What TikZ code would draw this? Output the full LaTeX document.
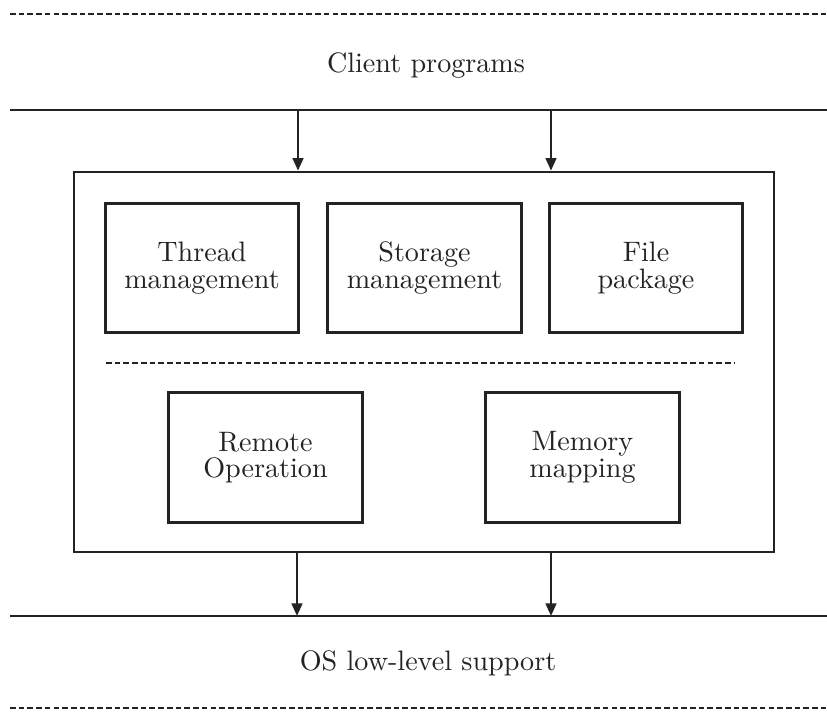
\documentclass[tikz,border=0pt]{standalone}
\usetikzlibrary{arrows.meta}
\definecolor{ink}{RGB}{35,35,35}
\tikzset{
  box/.style={draw=ink, line width=1pt, minimum width=2.42cm, minimum height=1.62cm,
              inner sep=2pt, align=center, text=ink, font=\fontsize{10}{9.5}\selectfont},
  frame/.style={draw=ink, line width=0.9pt, minimum width=8.75cm, minimum height=4.75cm, inner sep=0pt},
  bus/.style={draw=ink, line width=1pt},
  sepline/.style={draw=ink, line width=1pt, dash pattern=on 2pt off 1.1pt},
  flow/.style={-{Triangle[length=4.5pt,width=3.8pt]}, ink, line width=0.9pt},
  layer/.style={text=ink, font=\fontsize{10}{12}\selectfont},
}
\begin{document}
\begin{tikzpicture}[x=0.0125cm, y=-0.0125cm]
    \useasboundingbox (0,0) rectangle (827,712);
    % --- client layer ---
    \draw[sepline] (10,14) -- (827,14);
    \node[layer] (client) at (426,65) {Client programs};
    \coordinate (topL) at (10,110);
    \coordinate (topR) at (827,110);
    \draw[bus] (topL) -- (topR);
    % --- the package ---
    \node[frame] (pkg) at (424,362) {};
    \node[box] (thread)  at (202,268)   {Thread\\management};
    \node[box] (storage) at (424.5,268) {Storage\\management};
    \node[box] (file)    at (646,268)   {File\\package};
    \coordinate (sepL) at (106,363);
    \coordinate (sepR) at (735,363);
    \draw[sepline] (sepL) -- (sepR);
    \node[box] (remote) at (265.5,457.5) {Remote\\Operation};
    \node[box] (memory) at (582.5,457.5) {Memory\\mapping};
    % --- calls in and out ---
    \coordinate (in1) at (298,110);
    \coordinate (in2) at (551,110);
    \draw[flow] (in1) -- (in1 |- pkg.north);
    \draw[flow] (in2) -- (in2 |- pkg.north);
    \coordinate (out1) at (297,616);
    \coordinate (out2) at (551,616);
    \draw[flow] (out1 |- pkg.south) -- (out1);
    \draw[flow] (out2 |- pkg.south) -- (out2);
    % --- OS layer ---
    \coordinate (botL) at (10,616);
    \coordinate (botR) at (827,616);
    \draw[bus] (botL) -- (botR);
    \node[layer] (os) at (428,663) {OS low-level support};
    \draw[sepline] (10,708) -- (827,708);
\end{tikzpicture}
\end{document}
